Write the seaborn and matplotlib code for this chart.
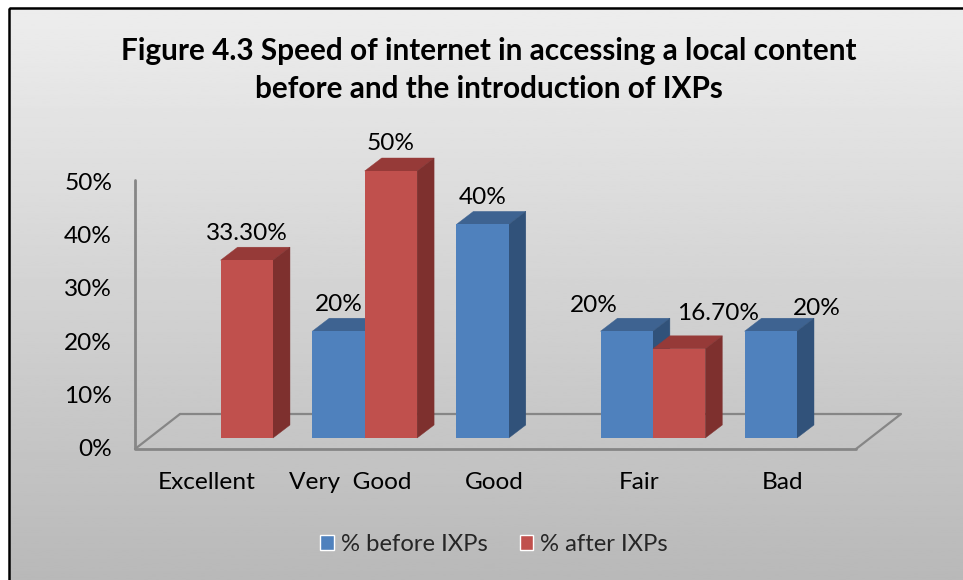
import numpy as np
import pandas as pd
import seaborn as sns
from matplotlib import pyplot as plt
from matplotlib.patches import Polygon, Rectangle
from matplotlib.transforms import IdentityTransform, ScaledTranslation

categories = ["Excellent", "Very  Good", "Good", "Fair", "Bad"]
before = [None, 20, 40, 20, 20]
after = [33.3, 50, None, 16.7, None]
before_labels = [None, "20%", "40%", "20%", "20%"]
after_labels = ["33.30%", "50%", None, "16.70%", None]
y_ticks = [0, 10, 20, 30, 40, 50]
series = ["% before IXPs", "% after IXPs"]
title = "Figure 4.3 Speed of internet in accessing a local content\nbefore and the introduction of IXPs"

W, H = 963, 580
FONT = "Lato"
TXT = 17.6
BAR_W = 0.727

sns.set_theme(style="white")
plt.rcParams["font.family"] = [FONT, "DejaVu Sans"]

rows = []
for c, b, a in zip(categories, before, after):
    rows.append({"cat": c, "series": series[0], "value": b})
    rows.append({"cat": c, "series": series[1], "value": a})
df = pd.DataFrame(rows).dropna()

fig = plt.figure(figsize=(W / 100, H / 100), dpi=100, facecolor="white")

# background panel, in pixel coordinates
bg = fig.add_axes([0, 0, 1, 1], zorder=0)
grad = np.linspace(0.93, 0.72, 256).reshape(-1, 1)
bg.imshow(grad, cmap="gray", vmin=0, vmax=1, extent=(9, 975, 590, 7), aspect="auto")
bg.set_xlim(0, W)
bg.set_ylim(H, 0)
bg.axis("off")
bg.add_patch(Rectangle((9, 7.5), 975, 590, fill=False, ec="black", lw=1.8))

# floor and axis lines
grey = "#868686"
bg.plot([180, 901, 856], [414, 414, 449], color=grey, lw=1.6, solid_capstyle="round")
bg.plot([180, 135], [414, 449], color=grey, lw=1.6)
bg.plot([135, 135, 856], [180, 449, 449], color=grey, lw=2.0)

ax = fig.add_axes([135 / W, 1 - 438 / H, (856 - 135) / W, (438 - 171) / H], zorder=1)
ax.patch.set_alpha(0)
sns.barplot(data=df, x="cat", y="value", hue="series", order=categories, hue_order=series,
            palette=["#4F81BD", "#C0504D"], width=BAR_W, gap=0, saturation=1, ax=ax,
            errorbar=None)
ax.set_xlim((135 - 220.6) / 144.1, (856 - 220.6) / 144.1)
ax.set_ylim(0, 50)
ax.set_xlabel("")
ax.set_ylabel("")
sns.despine(ax=ax, left=True, bottom=True)
ax.tick_params(length=0)
ax.set_yticks(y_ticks)
ax.set_yticklabels([f"{v}%" for v in y_ticks], fontsize=TXT, color="black")
ax.tick_params(axis="y", pad=16.5)
ax.tick_params(axis="x", pad=24.5)
for t in ax.get_xticklabels():
    t.set_fontsize(TXT)
    t.set_color("black")
    t.set_transform(t.get_transform() + ScaledTranslation(-14 / 100, 0, fig.dpi_scale_trans))
for t in ax.get_yticklabels():
    t.set_transform(t.get_transform() + ScaledTranslation(0, -10 / 100, fig.dpi_scale_trans))

# 3d look: top and side faces hang off each bar
DX, DY = 17, 13
shades = {0: ("#3E6391", "#31527A"), 1: ("#963A38", "#7E302E")}
bars = []
for s, cont in enumerate(ax.containers):
    for p in cont:
        bars.append((p.get_x(), s, p))
bars.sort(key=lambda b: (b[0], b[1]))
for i, (_, s, p) in enumerate(bars):
    x0, y0 = ax.transData.transform((p.get_x(), 0))
    x1, y1 = ax.transData.transform((p.get_x() + p.get_width(), p.get_height()))
    top, side = shades[s]
    z = 3 + i
    ax.add_patch(Polygon([(x0, y1), (x1, y1), (x1 + DX, y1 + DY), (x0 + DX, y1 + DY)], fc=top,
                         ec=top, lw=0.3, transform=IdentityTransform(), clip_on=False, zorder=z))
    ax.add_patch(Polygon([(x1, y0), (x1 + DX, y0 + DY), (x1 + DX, y1 + DY), (x1, y1)], fc=side,
                         ec=side, lw=0.3, transform=IdentityTransform(), clip_on=False, zorder=z))
    p.set_zorder(z + 0.5)
    p.set_clip_on(False)
    p.set_linewidth(0)

# value labels, (dx, dy) in pixels from the bar's top centre
label_shift = {("Fair", 0): (-33, 26), ("Fair", 1): (39, 35), ("Bad", 0): (46, 23)}
for s, labels in enumerate([before_labels, after_labels]):
    values = [before, after][s]
    for k, (c, lab, v) in enumerate(zip(categories, labels, values)):
        if lab is None:
            continue
        cx = k - BAR_W / 4 if s == 0 else k + BAR_W / 4
        dx, dy = label_shift.get((c, s), (0, 27))
        ax.annotate(lab, (cx, v), xytext=(dx, dy), textcoords="offset pixels", ha="center",
                    va="center", fontsize=TXT, color="black", annotation_clip=False, zorder=50)

handles, labels = ax.get_legend_handles_labels()
ax.legend(handles, labels, ncol=2, loc="center", bbox_to_anchor=(494 / W, 1 - 544.5 / H),
          bbox_transform=fig.transFigure, frameon=False, fontsize=17.2, handlelength=0.58,
          handleheight=0.58, handletextpad=0.29, columnspacing=1.34, title=None)

fig.text(489 / W, 1 - 70 / H, title, ha="center", va="center", fontsize=21.4, fontweight="bold",
         color="black", linespacing=1.45)

fig.savefig("out.png", dpi=100)
